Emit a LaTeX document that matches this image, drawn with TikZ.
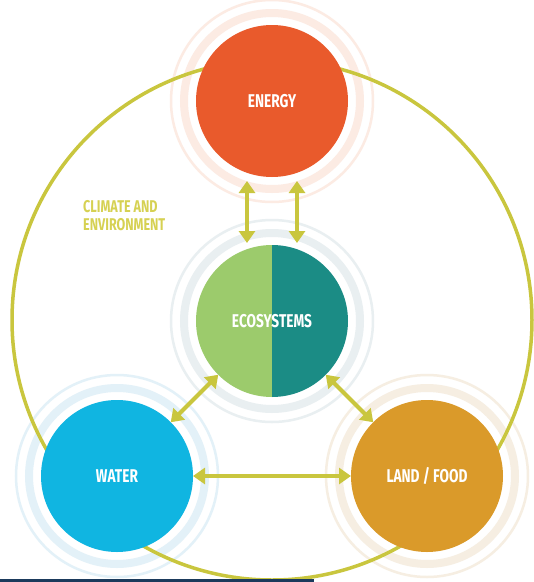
\documentclass[tikz,border=0pt]{standalone}
\usepackage{fontspec}
\newfontfamily\condfont[FakeStretch=0.74]{Fira Sans}
\usetikzlibrary{arrows.meta,calc}
\definecolor{energyC}{HTML}{E95A2C}
\definecolor{ecoL}{HTML}{9CCB6C}
\definecolor{ecoR}{HTML}{1B8C85}
\definecolor{waterC}{HTML}{10B5E1}
\definecolor{landC}{HTML}{DA9A2A}
\definecolor{arcC}{HTML}{C9C63E}
\definecolor{climC}{HTML}{D6D152}
\definecolor{ringE}{HTML}{FCEBE3}
\definecolor{ringEco}{HTML}{E9EFF1}
\definecolor{ringW}{HTML}{E3F1F8}
\definecolor{ringL}{HTML}{F6EEE2}
\definecolor{barC}{HTML}{1B3A5C}
\tikzset{
  hub/.style={circle,minimum size=152pt,inner sep=0pt,outer sep=0pt,text=white,
    font=\condfont\bfseries\fontsize{18.5}{20}\selectfont},
  ringin/.style={line width=8pt},
  ringout/.style={line width=2.5pt},
  dbl/.style={draw=arcC,line width=4pt,{Triangle[width=16pt,length=12pt]}-{Triangle[width=16pt,length=12pt]}},
  bigarc/.style={draw=arcC,line width=3.5pt},
  clim/.style={text=climC,align=left,anchor=west,inner sep=0pt,
    font=\condfont\bfseries\fontsize{17}{18}\selectfont}
}
\begin{document}
\begin{tikzpicture}[x=1pt,y=-1pt]
\useasboundingbox (0,0) rectangle (534,582);
\fill[white] (0,0) rectangle (534,582);
% centres
\coordinate (cE) at (272,101);
\coordinate (cEco) at (272,321);
\coordinate (cW) at (117,476);
\coordinate (cL) at (427,476);
\coordinate (cBig) at (272,320);
% rings
\draw[ringin,ringE] (cE) circle[radius=88pt];
\draw[ringout,ringE] (cE) circle[radius=101pt];
\draw[ringin,ringEco] (cEco) circle[radius=88pt];
\draw[ringout,ringEco] (cEco) circle[radius=101pt];
\draw[ringin,ringW] (cW) circle[radius=88pt];
\draw[ringout,ringW] (cW) circle[radius=101pt];
\draw[ringin,ringL] (cL) circle[radius=88pt];
\draw[ringout,ringL] (cL) circle[radius=101pt];
% big circle
\draw[bigarc] (cBig) circle[radius=260pt];
% hubs
\node[hub,fill=energyC] (energy) at (cE) {ENERGY};
\node[hub,fill=waterC] (water) at (cW) {WATER};
\node[hub,fill=landC] (land) at (cL) {LAND / FOOD};
\node[hub] (eco) at (cEco) {};
\fill[ecoL] (eco.north) arc[start angle=90,end angle=270,radius=76pt] -- cycle;
\fill[ecoR] (eco.north) arc[start angle=90,end angle=-90,radius=76pt] -- cycle;
\node[hub] (ecolabel) at (eco.center) {ECOSYSTEMS};
% arrows
\draw[dbl] ($(energy.center)+(-25,80)$) -- ($(eco.center)+(-25,-78)$);
\draw[dbl] ($(energy.center)+(25,80)$) -- ($(eco.center)+(25,-78)$);
\draw[dbl] (eco) -- (water);
\draw[dbl] (eco) -- (land);
\draw[dbl] (water) -- (land);
% label
\node[clim] (climate) at (83,216) {CLIMATE AND\\ENVIRONMENT};
% bottom bar
\fill[barC] (0,579) rectangle (314,582);
\end{tikzpicture}
\end{document}
